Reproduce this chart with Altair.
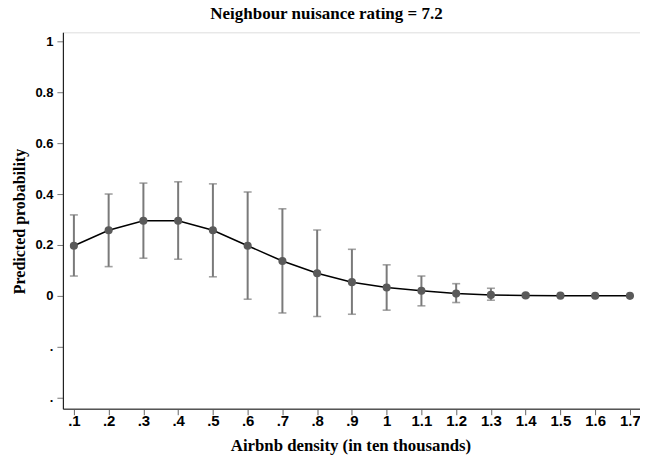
import altair as alt
import pandas as pd

density = [0.1, 0.2, 0.3, 0.4, 0.5, 0.6, 0.7, 0.8, 0.9, 1.0, 1.1, 1.2, 1.3, 1.4, 1.5, 1.6, 1.7]
prob = [0.197, 0.258, 0.295, 0.295, 0.258, 0.197, 0.137, 0.089, 0.054, 0.033, 0.020, 0.009, 0.004, 0.002, 0.001, 0.0005, 0.0002]
lower = [0.078, 0.115, 0.148, 0.144, 0.075, -0.013, -0.067, -0.081, -0.072, -0.056, -0.039, -0.026, -0.017, -0.004, -0.001, -0.0005, -0.0002]
upper = [0.318, 0.400, 0.443, 0.448, 0.440, 0.408, 0.342, 0.259, 0.183, 0.122, 0.078, 0.048, 0.030, 0.008, 0.003, 0.0015, 0.0006]

df = pd.DataFrame({"x": density, "p": prob, "lo": lower, "hi": upper})

xscale = alt.Scale(domain=[0.0684, 1.729], nice=False, zero=False)
yscale = alt.Scale(domain=[-0.443, 1.035], nice=False, zero=False)

xaxis = alt.Axis(
    values=density, tickCount=30,
    labelExpr="replace(format(datum.value, '.1~f'), '0.', '.')",
    title="Airbnb density (in ten thousands)",
    titleFont="Liberation Serif", titleFontSize=16.8, titleFontWeight="bold",
    titleColor="black", titleX=288, titleY=37, titleBaseline="middle", titleAlign="center",
    labelFont="Liberation Sans", labelFontSize=15, labelFontWeight="bold", labelColor="black",
    labelPadding=-1, tickSize=6, tickColor="#666666", domainColor="#555555",
    domainWidth=1.5, grid=False, labelFlush=False, labelOverlap=False,
)
yaxis = alt.Axis(
    values=[-0.4, -0.2, 0, 0.2, 0.4, 0.6, 0.8, 1.0], tickCount=20,
    labelExpr="datum.value < 0 ? '.' : format(datum.value, '.1~f')",
    title="Predicted probability",
    titleFont="Liberation Serif", titleFontSize=16, titleFontWeight="bold",
    titleColor="black", titleX=-43, titleY=189, titleBaseline="middle", titleAlign="center",
    titleAngle=270,
    labelFont="Liberation Sans", labelFontSize=13, labelFontWeight="bold", labelColor="black",
    labelPadding=4, tickSize=6, tickColor="#777777", domainColor="#222222",
    domainWidth=1.2, grid=False, labelFlush=False, labelOverlap=False,
)

base = alt.Chart(df)

rules = base.mark_rule(color="#7a7a7a", strokeWidth=2).encode(
    x=alt.X("x:Q", scale=xscale, axis=xaxis),
    y=alt.Y("lo:Q", scale=yscale, axis=yaxis),
    y2="hi:Q",
)
cap_lo = base.mark_tick(color="#7a7a7a", orient="horizontal", size=8, thickness=1.6).encode(
    x="x:Q", y="lo:Q"
)
cap_hi = base.mark_tick(color="#7a7a7a", orient="horizontal", size=8, thickness=1.6).encode(
    x="x:Q", y="hi:Q"
)
line = base.mark_line(color="black", strokeWidth=1.5).encode(x="x:Q", y="p:Q")
pts = base.mark_circle(color="#5a5a5a", opacity=1, size=66).encode(x="x:Q", y="p:Q")

chart = alt.layer(rules, cap_lo, cap_hi, line, pts).properties(
    width=578, height=377,
    title=alt.TitleParams(
        "Neighbour nuisance rating = 7.2",
        font="Liberation Serif", fontSize=17, fontWeight="bold", color="black",
        anchor="middle", dx=-25, offset=9,
    ),
    autosize=alt.AutoSizeParams(type="none"),
    padding={"left": 55, "top": 24, "right": 0, "bottom": 48},
).configure_view(stroke=None).configure(background="white").configure_axis(
    labelOverlap=False
)

chart.save("out.html", embed_options={"renderer": "svg", "actions": False})
